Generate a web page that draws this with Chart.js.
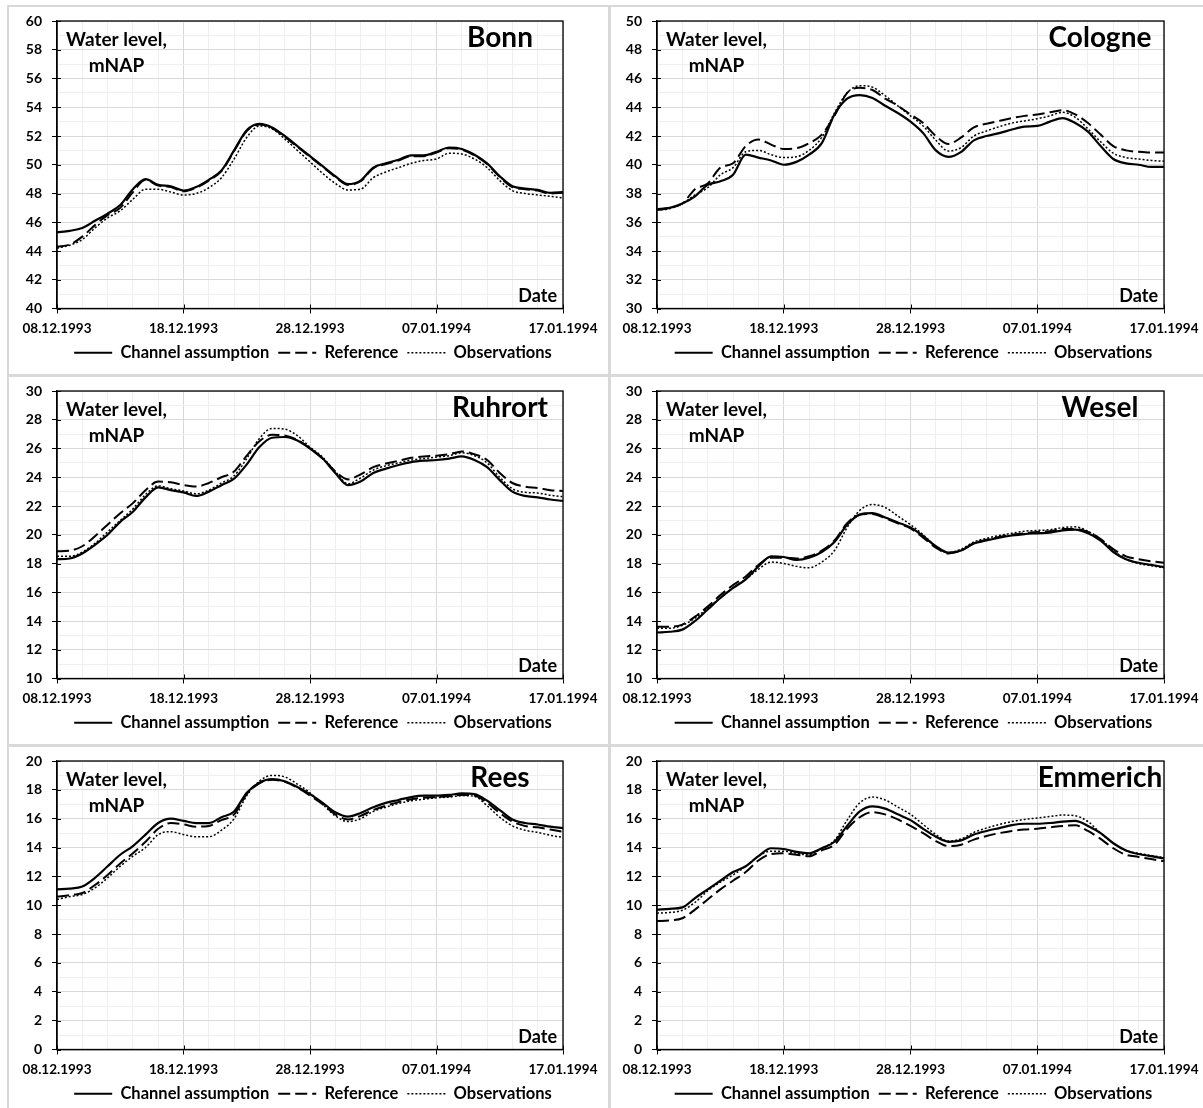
<!DOCTYPE html>
<html>
<head>
<meta charset="utf-8">
<title>Water levels Rhine, Dec 1993 - Jan 1994</title>
<script src="https://cdn.jsdelivr.net/npm/chart.js@4.4.0/dist/chart.umd.min.js"></script>
<style>
  html, body { margin: 0; padding: 0; background: #fff; width: 1203px; height: 1108px; overflow: hidden; }
  .frame { position: absolute; box-sizing: border-box; border: 2px solid #d9d9d9; }
  canvas { position: absolute; }
</style>
</head>
<body>
<script>
// ---- data (one value per day, 08.12.1993 .. 17.01.1994) ----
const xTickLabels = ['08.12.1993', '18.12.1993', '28.12.1993', '07.01.1994', '17.01.1994'];
const seriesNames = ['Channel assumption', 'Reference', 'Observations'];
const stations = ['Bonn', 'Cologne', 'Ruhrort', 'Wesel', 'Rees', 'Emmerich'];
const yMin = [40, 30, 10, 10, 0, 0];
const yMax = [60, 50, 30, 30, 20, 20];

const bonnChannel = [45.3,45.4,45.6,46.1,46.6,47.2,48.3,49.0,48.6,48.5,48.2,48.45,48.95,49.6,51.0,52.4,52.85,52.6,52.0,51.3,50.6,49.9,49.2,48.65,48.9,49.8,50.1,50.35,50.65,50.65,50.9,51.2,51.1,50.7,50.1,49.2,48.5,48.35,48.25,48.05,48.1];
const bonnReference = [44.3,44.45,45.0,45.8,46.5,47.0,48.1,48.95,48.55,48.45,48.15,48.4,48.9,49.55,50.95,52.35,52.8,52.55,51.95,51.25,50.55,49.85,49.15,48.6,48.85,49.75,50.05,50.3,50.6,50.6,50.85,51.15,51.05,50.65,50.05,49.15,48.45,48.3,48.2,48.0,48.05];
const bonnObservations = [44.2,44.4,44.8,45.6,46.3,46.8,47.6,48.3,48.3,48.1,47.9,48.0,48.4,49.1,50.4,51.9,52.7,52.5,51.8,51.0,50.2,49.4,48.7,48.25,48.3,49.1,49.5,49.8,50.1,50.3,50.4,50.8,50.75,50.4,49.8,48.9,48.2,48.0,47.9,47.8,47.7];

const cologneChannel = [36.9,37.0,37.3,37.8,38.6,38.85,39.3,40.7,40.5,40.3,40.0,40.2,40.7,41.5,43.5,44.6,44.85,44.65,44.1,43.6,43.0,42.2,41.0,40.55,40.9,41.7,42.0,42.2,42.45,42.65,42.7,43.0,43.25,42.9,42.3,41.3,40.4,40.1,40.0,39.85,39.85];
const cologneReference = [36.85,37.0,37.3,38.3,38.7,39.8,40.1,41.3,41.75,41.4,41.1,41.15,41.5,42.1,43.4,45.0,45.35,45.2,44.6,44.1,43.5,42.9,42.0,41.45,41.9,42.6,42.85,43.05,43.25,43.4,43.5,43.65,43.8,43.5,42.9,42.1,41.3,41.0,40.9,40.85,40.85];
const cologneObservations = [36.85,36.95,37.3,37.9,38.4,39.3,39.8,40.9,41.0,40.7,40.5,40.55,41.0,41.9,43.6,45.0,45.5,45.4,44.8,44.1,43.4,42.7,41.7,40.95,41.2,42.0,42.35,42.65,42.9,43.05,43.2,43.4,43.65,43.3,42.5,41.6,40.8,40.5,40.4,40.3,40.25];

const ruhrortChannel = [18.3,18.35,18.7,19.3,20.0,20.9,21.6,22.6,23.3,23.1,22.95,22.7,23.0,23.45,23.9,24.9,26.1,26.75,26.8,26.55,26.0,25.3,24.3,23.45,23.7,24.3,24.6,24.85,25.05,25.15,25.2,25.3,25.45,25.2,24.7,23.8,23.0,22.7,22.6,22.45,22.35];
const ruhrortReference = [18.85,18.9,19.2,19.9,20.7,21.5,22.2,23.1,23.7,23.65,23.45,23.35,23.6,24.0,24.4,25.5,26.5,26.95,26.9,26.6,26.0,25.3,24.4,23.85,24.2,24.7,24.95,25.15,25.35,25.45,25.5,25.6,25.8,25.6,25.2,24.3,23.6,23.35,23.25,23.1,23.05];
const ruhrortObservations = [18.5,18.5,18.8,19.4,20.2,21.0,21.8,22.8,23.4,23.2,23.05,22.85,23.1,23.6,24.1,25.3,26.7,27.4,27.35,26.9,26.1,25.4,24.4,23.55,23.95,24.5,24.8,25.0,25.2,25.3,25.4,25.5,25.7,25.5,25.0,24.0,23.2,22.95,22.9,22.75,22.65];

const weselChannel = [13.2,13.25,13.4,14.0,14.8,15.6,16.3,16.9,17.8,18.5,18.45,18.25,18.4,18.8,19.5,20.7,21.4,21.5,21.2,20.85,20.5,19.9,19.2,18.75,18.9,19.4,19.6,19.8,19.95,20.05,20.1,20.15,20.3,20.35,20.1,19.6,18.8,18.3,18.05,17.9,17.75];
const weselReference = [13.6,13.6,13.75,14.3,15.0,15.8,16.5,17.1,17.9,18.4,18.4,18.35,18.5,18.9,19.6,20.8,21.4,21.45,21.15,20.8,20.45,19.8,19.1,18.7,18.9,19.4,19.65,19.85,20.0,20.1,20.2,20.25,20.4,20.4,20.2,19.7,19.0,18.5,18.3,18.15,18.05];
const weselObservations = [13.5,13.5,13.7,14.2,14.9,15.6,16.3,16.9,17.6,18.1,18.0,17.8,17.7,18.1,18.9,20.5,21.7,22.1,21.9,21.3,20.7,20.0,19.2,18.75,19.0,19.5,19.75,19.95,20.1,20.25,20.3,20.35,20.5,20.55,20.25,19.7,18.9,18.3,18.0,17.85,17.7];

const reesChannel = [11.1,11.15,11.3,11.9,12.7,13.5,14.1,14.9,15.7,16.0,15.85,15.7,15.7,16.1,16.5,17.8,18.5,18.75,18.6,18.2,17.7,17.1,16.45,16.15,16.4,16.8,17.1,17.3,17.5,17.6,17.6,17.65,17.75,17.7,17.25,16.6,15.95,15.7,15.6,15.45,15.35];
const reesReference = [10.6,10.7,10.85,11.4,12.1,12.9,13.6,14.4,15.3,15.7,15.6,15.45,15.5,15.9,16.3,17.7,18.45,18.7,18.55,18.15,17.6,17.0,16.3,15.95,16.2,16.6,16.9,17.15,17.35,17.45,17.5,17.55,17.65,17.6,17.1,16.4,15.8,15.5,15.4,15.25,15.1];
const reesObservations = [10.4,10.6,10.75,11.2,11.9,12.7,13.4,14.0,14.9,15.1,14.9,14.75,14.75,15.2,16.0,17.6,18.6,19.0,18.9,18.4,17.8,17.0,16.2,15.8,16.0,16.5,16.8,17.05,17.25,17.35,17.45,17.5,17.6,17.55,16.9,16.1,15.5,15.2,15.05,14.85,14.7];

const emmerichChannel = [9.7,9.75,9.85,10.5,11.1,11.7,12.3,12.7,13.4,13.95,13.9,13.7,13.6,13.95,14.4,15.5,16.5,16.85,16.7,16.3,15.9,15.3,14.75,14.4,14.5,14.9,15.15,15.35,15.55,15.65,15.65,15.7,15.8,15.85,15.5,15.0,14.3,13.8,13.55,13.4,13.25];
const emmerichReference = [8.9,8.95,9.1,9.7,10.4,11.1,11.7,12.3,13.1,13.55,13.6,13.5,13.4,13.8,14.2,15.3,16.1,16.45,16.3,15.95,15.5,15.0,14.45,14.1,14.2,14.55,14.8,15.0,15.15,15.25,15.3,15.4,15.5,15.55,15.15,14.6,13.95,13.5,13.35,13.2,13.05];
const emmerichObservations = [9.45,9.5,9.65,10.2,11.0,11.6,12.1,12.7,13.4,13.75,13.75,13.6,13.5,13.95,14.5,15.9,17.1,17.5,17.3,16.8,16.3,15.6,14.9,14.45,14.6,15.05,15.35,15.6,15.8,15.95,16.05,16.15,16.25,16.2,15.8,15.0,14.3,13.8,13.6,13.45,13.3];

const panelSeries = [
    [bonnChannel, bonnReference, bonnObservations],
    [cologneChannel, cologneReference, cologneObservations],
    [ruhrortChannel, ruhrortReference, ruhrortObservations],
    [weselChannel, weselReference, weselObservations],
    [reesChannel, reesReference, reesObservations],
    [emmerichChannel, emmerichReference, emmerichObservations]
];

// ---- styling ----
Chart.defaults.font.family = 'Lato';
Chart.defaults.color = '#000';

const lineStyles = [
    { borderWidth: 2.2, borderDash: [] },
    { borderWidth: 2, borderDash: [12, 5] },
    { borderWidth: 1.5, borderDash: [2, 2] }
];
const MAJOR_GRID = '#d9d9d9';
const MINOR_GRID = '#efefef';

// legend samples should carry the dash pattern of their dataset
function legendLabels(chart) {
    const items = Chart.defaults.plugins.legend.labels.generateLabels(chart);
    items.forEach(it => {
        const ds = chart.data.datasets[it.datasetIndex];
        it.lineDash = ds.borderDash;
        it.lineWidth = ds.borderWidth;
        it.strokeStyle = '#000';
        it.fillStyle = '#000';
    });
    return items;
}

// frame, inner tick marks and the texts inside the plot area
const panelDecor = {
    id: 'panelDecor',
    afterDatasetsDraw(chart, args, opts) {
        const { ctx, chartArea: a, scales } = chart;
        ctx.save();
        ctx.strokeStyle = '#000';
        ctx.lineWidth = 1.3;
        ctx.strokeRect(a.left, a.top, a.width, a.height);
        ctx.beginPath();
        scales.x.ticks.forEach(t => {
            if (t.value % 10 !== 0) return;
            const px = Math.round(scales.x.getPixelForValue(t.value)) + 0.5;
            ctx.moveTo(px, a.bottom); ctx.lineTo(px, a.bottom - 4);
        });
        scales.y.ticks.forEach(t => {
            if (t.value % 2 !== 0) return;
            const py = Math.round(scales.y.getPixelForValue(t.value)) + 0.5;
            ctx.moveTo(a.left, py); ctx.lineTo(a.left + 4, py);
        });
        ctx.lineWidth = 1;
        ctx.stroke();

        ctx.fillStyle = '#000';
        ctx.textBaseline = 'middle';
        ctx.textAlign = 'center';
        ctx.font = 'bold 19px Lato';
        ctx.fillText('Water level,', a.left + 59.5, a.top + 19);
        ctx.fillText('mNAP', a.left + 59.5, a.top + 45);
        ctx.font = 'bold 28px Lato';
        ctx.fillText(opts.station, a.left + 443, a.top + 17);
        ctx.textAlign = 'right';
        ctx.font = 'bold 18px Lato';
        ctx.fillText('Date', a.right - 6, a.bottom - 12);
        ctx.restore();
    }
};

function makePanel(i) {
    const col = i % 2, row = Math.floor(i / 2);
    const left = col === 0 ? 8 : 610;
    const top = 6 + row * 370;

    const frame = document.createElement('div');
    frame.className = 'frame';
    frame.style.left = (left - 1) + 'px';
    frame.style.top = (top - 1) + 'px';
    frame.style.width = (col === 0 ? 603 : 600) + 'px';
    frame.style.height = '371px';
    document.body.appendChild(frame);

    const canvas = document.createElement('canvas');
    canvas.width = 598; canvas.height = 368;
    canvas.style.left = left + 'px';
    canvas.style.top = top + 'px';
    document.body.appendChild(canvas);

    const padLeft = col === 0 ? 12 : 9;
    const axisWidth = (col === 0 ? 49 : 47) - padLeft;
    const padRight = col === 0 ? 43 : 44;

    const datasets = panelSeries[i].map((vals, k) => ({
        label: seriesNames[k],
        data: vals.map((v, d) => ({ x: d, y: v })),
        borderColor: '#000',
        backgroundColor: '#000',
        borderWidth: lineStyles[k].borderWidth,
        borderDash: lineStyles[k].borderDash,
        pointRadius: 0,
        cubicInterpolationMode: 'monotone',
        fill: false
    }));

    new Chart(canvas, {
        type: 'line',
        data: { datasets },
        plugins: [panelDecor],
        options: {
            responsive: false,
            animation: false,
            layout: { padding: { left: padLeft, right: 0, top: 15, bottom: row === 2 ? 2 : 3 } },
            plugins: {
                panelDecor: { station: stations[i] },
                tooltip: { enabled: false },
                legend: {
                    position: 'bottom',
                    labels: {
                        usePointStyle: true,
                        pointStyle: 'line',
                        pointStyleWidth: 38,
                        padding: 9,
                        color: '#000',
                        font: { size: 16.5, weight: 'bold' },
                        generateLabels: legendLabels
                    }
                }
            },
            scales: {
                x: {
                    type: 'linear',
                    min: 0, max: 40,
                    afterFit(s) { s.height = 27; s.paddingLeft = 0; s.paddingRight = padRight; },
                    ticks: {
                        stepSize: 2, autoSkip: false, maxRotation: 0, padding: 7,
                        font: { size: 13.5, weight: 'bold' },
                        callback: v => (v % 10 === 0 ? xTickLabels[v / 10] : '')
                    },
                    grid: {
                        color: c => (c.tick && c.tick.value % 10 === 0 ? MAJOR_GRID : MINOR_GRID),
                        tickColor: c => (c.tick && c.tick.value % 10 === 0 ? '#000' : 'rgba(0,0,0,0)'),
                        tickLength: 5
                    },
                    border: { display: true, color: '#000', width: 1.3 }
                },
                y: {
                    min: yMin[i], max: yMax[i],
                    afterFit(s) { s.width = axisWidth; s.paddingTop = 0; s.paddingBottom = 0; },
                    ticks: {
                        stepSize: 1, autoSkip: false, padding: 10,
                        font: { size: 14, weight: 'bold' },
                        callback: v => (v % 2 === 0 ? v : '')
                    },
                    grid: {
                        color: c => (c.tick && c.tick.value % 2 === 0 ? MAJOR_GRID : MINOR_GRID),
                        tickColor: c => (c.tick && c.tick.value % 2 === 0 ? '#000' : 'rgba(0,0,0,0)'),
                        tickLength: 5
                    },
                    border: { display: true, color: '#000', width: 1.3 }
                }
            }
        }
    });
}

for (let i = 0; i < stations.length; i++) makePanel(i);
</script>
</body>
</html>
